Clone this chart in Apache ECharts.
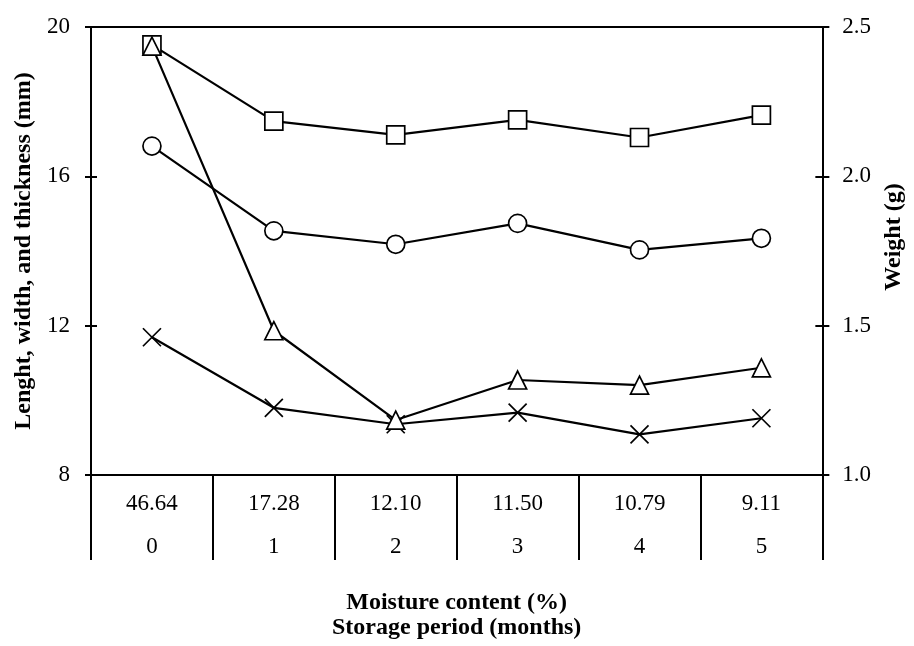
<!DOCTYPE html>
<html>
<head>
<meta charset="utf-8">
<script src="https://cdn.jsdelivr.net/npm/echarts@6/dist/echarts.min.js"></script>
<style>
html,body{margin:0;padding:0;background:#fff;}
#chart{width:914px;height:646px;}
</style>
</head>
<body>
<div id="chart"></div>
<script>
// Category labels (two rows under the axis)
const moistureLabels = ['46.64', '17.28', '12.10', '11.50', '10.79', '9.11'];
const periodLabels = ['0', '1', '2', '3', '4', '5'];

// Left axis (mm)
const lengthMM = [19.52, 17.48, 17.11, 17.51, 17.04, 17.64];
const widthMM = [16.81, 14.54, 14.18, 14.74, 14.03, 14.34];
const thicknessMM = [11.69, 9.80, 9.36, 9.67, 9.09, 9.52];
// Right axis (g)
const weightG = [2.436, 1.483, 1.184, 1.318, 1.301, 1.359];

// Axis ticks
const leftTicks = {min: 8, max: 20, interval: 4};
const rightTicks = {min: 1.0, max: 2.5, interval: 0.5};

const FONT = '"Liberation Serif", "Times New Roman", serif';
const categories = periodLabels.map((p, i) => i);

const chart = echarts.init(document.getElementById('chart'), null, {renderer: 'canvas'});

const lineStyle = {color: '#000', width: 2.2};
function series(name, data, symbol, size, yIdx) {
  return {
    name, type: 'line', data, yAxisIndex: yIdx,
    symbol, symbolSize: size,
    showSymbol: true,
    lineStyle: lineStyle,
    itemStyle: {color: '#fff', borderColor: '#000', borderWidth: 1.7},
    emphasis: {disabled: true},
    animation: false,
    z: 3
  };
}

const blackLine = {color: '#000', width: 2};

const option = {
  backgroundColor: '#fff',
  animation: false,
  grid: {left: 91, right: 91, top: 27, bottom: 171, containLabel: false},
  xAxis: [{
    type: 'category',
    data: categories,
    position: 'bottom',
    boundaryGap: true,
    axisLine: {show: true, lineStyle: blackLine},
    axisTick: {show: true, length: 85, inside: false, lineStyle: blackLine},
    axisLabel: {
      show: true, margin: 7, interval: 0,
      formatter: (v, i) => moistureLabels[i] + '\n' + periodLabels[i],
      fontFamily: FONT, fontSize: 23, color: '#000', lineHeight: 43
    },
    splitLine: {show: false},
    name: 'Moisture content (%)\nStorage period (months)',
    nameLocation: 'middle',
    nameGap: 115,
    nameTextStyle: {fontFamily: FONT, fontSize: 24, fontWeight: 'bold', color: '#000', lineHeight: 25}
  }, {
    type: 'category',
    data: categories,
    position: 'top',
    axisLine: {show: true, lineStyle: blackLine},
    axisTick: {show: false},
    axisLabel: {show: false},
    splitLine: {show: false}
  }],
  yAxis: [{
    type: 'value',
    position: 'left',
    min: leftTicks.min, max: leftTicks.max, interval: leftTicks.interval,
    axisLine: {show: true, onZero: false, lineStyle: blackLine},
    axisTick: {show: true, length: 6, lineStyle: blackLine},
    axisLabel: {fontFamily: FONT, fontSize: 23, color: '#000', margin: 21},
    splitLine: {show: false},
    name: 'Lenght, width, and thickness (mm)',
    nameLocation: 'middle',
    nameGap: 49,
    nameTextStyle: {fontFamily: FONT, fontSize: 24, fontWeight: 'bold', color: '#000'}
  }, {
    type: 'value',
    position: 'right',
    min: rightTicks.min, max: rightTicks.max, interval: rightTicks.interval,
    axisLine: {show: true, onZero: false, lineStyle: blackLine},
    axisTick: {show: true, length: 7, lineStyle: blackLine},
    axisLabel: {fontFamily: FONT, fontSize: 23, color: '#000', margin: 20,
      formatter: v => v.toFixed(1)},
    splitLine: {show: false},
    name: 'Weight (g)',
    nameLocation: 'middle',
    nameGap: 52,
    nameTextStyle: {fontFamily: FONT, fontSize: 24, fontWeight: 'bold', color: '#000',
      padding: [0, 0, 0, 28]}
  }, {
    type: 'value',
    position: 'left',
    min: leftTicks.min, max: leftTicks.max, interval: leftTicks.interval,
    axisLine: {show: false},
    axisTick: {show: true, inside: true, length: 6, lineStyle: blackLine},
    axisLabel: {show: false},
    splitLine: {show: false}
  }, {
    type: 'value',
    position: 'right',
    min: rightTicks.min, max: rightTicks.max, interval: rightTicks.interval,
    axisLine: {show: false},
    axisTick: {show: true, inside: true, length: 7, lineStyle: blackLine},
    axisLabel: {show: false},
    splitLine: {show: false}
  }],
  series: [
    series('Length', lengthMM, 'rect', 18, 0),
    series('Width', widthMM, 'circle', 18, 0),
    series('Thickness', thicknessMM, 'path://M0,0L10,10M10,0L0,10', 18, 0),
    series('Weight', weightG, 'triangle', 18, 1)
  ]
};
chart.setOption(option);
</script>
</body>
</html>
